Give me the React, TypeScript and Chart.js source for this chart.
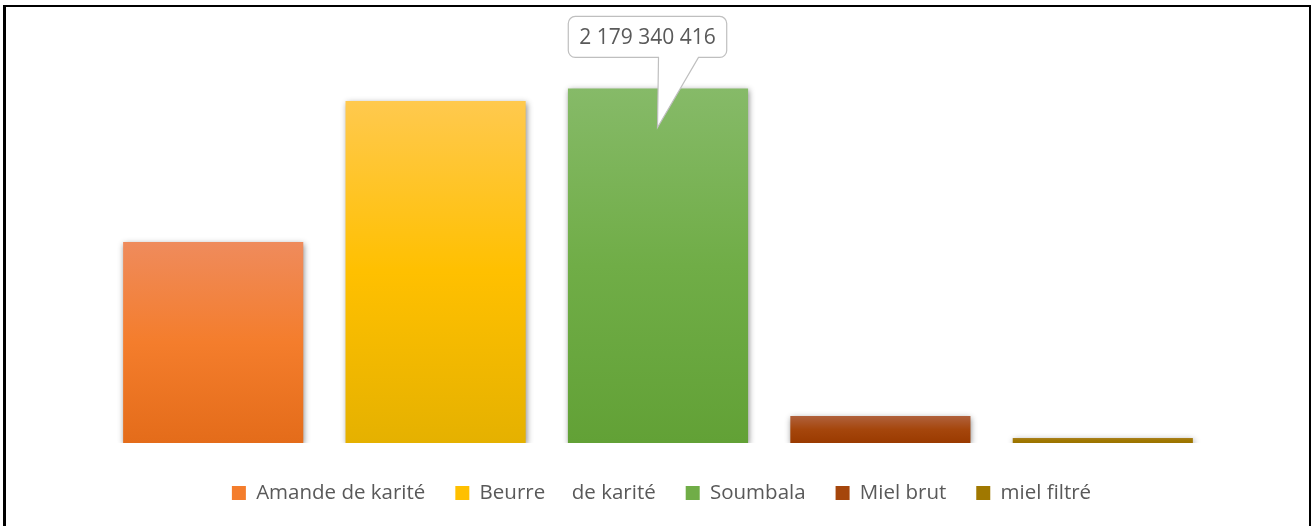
import React, { useEffect, useRef } from "react";
import { Chart, registerables } from "chart.js";

Chart.register(...registerables);

const categories = ["Amande de karité", "Beurre     de karité", "Soumbala", "Miel brut", "miel filtré"];
const values = [1235000000, 2102000000, 2179340416, 166000000, 31000000];
const colorTop = ["#EF8B5C", "#FFC94E", "#86BA68", "#B0613C", "#A98020"];
const colorMid = ["#F47D2C", "#FFC000", "#70AD47", "#A5460C", "#A07800"];
const colorBottom = ["#E46C1A", "#E5B100", "#62A136", "#9A3A00", "#9A7200"];
const calloutIndex = 2;
const yMax = 2600000000;

const FONT = '"Open Sans", "DejaVu Sans", sans-serif';
const TEXT_COLOR = "#595959";

function formatNumber(v: number): string {
  return String(Math.round(v)).replace(/\B(?=(\d{3})+(?!\d))/g, " ");
}

const shadowPlugin = {
  id: "barShadow",
  beforeDatasetsDraw(chart: any) {
    const ctx = chart.ctx;
    ctx.save();
    ctx.shadowColor = "rgba(0,0,0,0.45)";
    ctx.shadowBlur = 6;
    ctx.shadowOffsetX = 1;
    ctx.shadowOffsetY = 2;
  },
  afterDatasetsDraw(chart: any) {
    chart.ctx.restore();
  },
};

const calloutPlugin = {
  id: "callout",
  afterDatasetsDraw(chart: any) {
    const bar = chart.getDatasetMeta(0).data[calloutIndex];
    if (!bar) return;
    const { x, y } = bar.getProps(["x", "y"], true);
    const ctx = chart.ctx;
    const text = formatNumber(values[calloutIndex]);
    ctx.save();
    ctx.font = `21px ${FONT}`;
    const tw = ctx.measureText(text).width;
    const cx = x - 10.5;
    const cy = y - 51.5;
    const w = tw + 22;
    const h = 41;
    const left = cx - w / 2;
    const right = cx + w / 2;
    const top = cy - h / 2;
    const bottom = cy + h / 2;
    const r = 7;
    const tipX = x - 0.5;
    const tipY = y + 39;
    const p1 = x + 0.5;
    const p2 = x + 40.5;
    ctx.beginPath();
    ctx.moveTo(left + r, top);
    ctx.lineTo(right - r, top);
    ctx.arcTo(right, top, right, top + r, r);
    ctx.lineTo(right, bottom - r);
    ctx.arcTo(right, bottom, right - r, bottom, r);
    ctx.lineTo(p2, bottom);
    ctx.lineTo(tipX, tipY);
    ctx.lineTo(p1, bottom);
    ctx.lineTo(left + r, bottom);
    ctx.arcTo(left, bottom, left, bottom - r, r);
    ctx.lineTo(left, top + r);
    ctx.arcTo(left, top, left + r, top, r);
    ctx.closePath();
    ctx.fillStyle = "#FFFFFF";
    ctx.fill();
    ctx.lineWidth = 1.2;
    ctx.strokeStyle = "#BFBFBF";
    ctx.stroke();
    ctx.fillStyle = TEXT_COLOR;
    ctx.textAlign = "center";
    ctx.textBaseline = "middle";
    ctx.fillText(text, cx, cy + 1);
    ctx.restore();
  },
};

const framePlugin = {
  id: "frame",
  afterDraw(chart: any) {
    const ctx = chart.ctx;
    ctx.save();
    ctx.fillStyle = "#000000";
    ctx.fillRect(3, 5, 3, 530);
    ctx.fillRect(3, 5, 1308, 2);
    ctx.fillRect(1309, 5, 2, 530);
    ctx.restore();
  },
};

export default function App() {
  const canvasRef = useRef<HTMLCanvasElement | null>(null);

  useEffect(() => {
    const canvas = canvasRef.current;
    if (!canvas) return;
    const chart = new Chart(canvas, {
      type: "bar",
      data: {
        labels: categories,
        datasets: [
          {
            label: "Valeur",
            data: values,
            backgroundColor: (c: any) => {
              const chart = c.chart;
              const i = c.dataIndex;
              const ys = chart.scales?.y;
              if (i === undefined || !ys || !chart.chartArea) return colorMid[i ?? 0];
              const yTop = ys.getPixelForValue(values[i]);
              const yBot = ys.getPixelForValue(0);
              if (!isFinite(yTop) || !isFinite(yBot) || yBot - yTop < 0.5) return colorMid[i];
              const g = chart.ctx.createLinearGradient(0, yTop, 0, yBot);
              g.addColorStop(0, colorTop[i]);
              g.addColorStop(0.5, colorMid[i]);
              g.addColorStop(1, colorBottom[i]);
              return g;
            },
            borderWidth: 0,
            categoryPercentage: 1,
            barPercentage: 0.81,
          },
        ],
      },
      options: {
        responsive: false,
        animation: false,
        devicePixelRatio: 1,
        layout: { padding: { left: 102, right: 91, top: 20, bottom: 12.75 } },
        scales: {
          x: {
            display: true,
            grid: { display: false },
            border: { display: false },
            ticks: { display: false },
            afterFit: (scale: any) => {
              scale.height = 9.75;
            },
          },
          y: {
            display: true,
            position: "right",
            min: 0,
            max: yMax,
            grid: { display: false },
            border: { display: false },
            ticks: { display: false },
            afterFit: (scale: any) => {
              scale.width = 7;
            },
          },
        },
        plugins: {
          tooltip: { enabled: false },
          legend: {
            display: true,
            position: "bottom",
            labels: {
              boxWidth: 14,
              boxHeight: 14,
              padding: 30,
              color: TEXT_COLOR,
              font: { family: FONT, size: 20.5 },
              generateLabels: () =>
                categories.map((name, i) => ({
                  text: name,
                  fillStyle: colorMid[i],
                  strokeStyle: colorMid[i],
                  lineWidth: 0,
                  hidden: false,
                  index: i,
                  datasetIndex: 0,
                  fontColor: TEXT_COLOR,
                })),
            },
          },
        },
      } as any,
      plugins: [shadowPlugin, calloutPlugin, framePlugin],
    });
    return () => chart.destroy();
  }, []);

  return (
    <div style={{ position: "fixed", left: 0, top: 0, width: 1312, height: 526, background: "#fff" }}>
      <canvas ref={canvasRef} width={1312} height={526} style={{ display: "block" }} />
    </div>
  );
}
